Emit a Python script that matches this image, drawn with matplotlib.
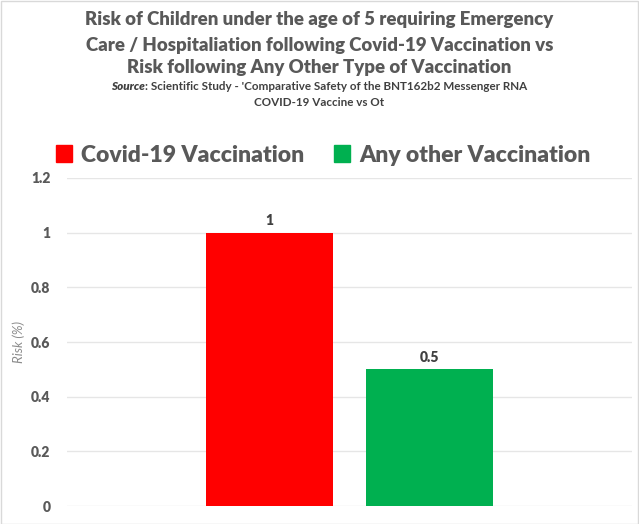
import matplotlib
matplotlib.use("Agg")
import matplotlib.pyplot as plt
from matplotlib.patches import Rectangle

series = ["Covid-19 Vaccination", "Any other Vaccination"]
values = [1.0, 0.5]
colors = ["#FF0000", "#00B050"]
yticks = [0, 0.2, 0.4, 0.6, 0.8, 1.0, 1.2]
ytick_labels = ["0", "0.2", "0.4", "0.6", "0.8", "1", "1.2"]
value_labels = ["1", "0.5"]
title_lines = ["Risk of Children under the age of 5 requiring Emergency",
               "Care / Hospitaliation following Covid-19 Vaccination vs",
               "Risk following Any Other Type of Vaccination"]
source_word = "Source"
source_rest = ": Scientific Study - 'Comparative Safety of the BNT162b2 Messenger RNA"
source_line2 = "COVID-19 Vaccine vs Ot"

W, H = 639, 524
plt.rcParams['font.family'] = ['Lato', 'DejaVu Sans']
fig = plt.figure(figsize=(W / 100, H / 100), dpi=100)
gray = "#595959"
dark = "#404040"

# border
fig.patches.append(Rectangle((0.5 / W, 0.5 / H), 1 - 1.5 / W, 1 - 1.5 / H, transform=fig.transFigure,
                             fill=False, edgecolor="#D9D9D9", linewidth=1))

ax = fig.add_axes([67 / W, 1 - 506 / H, (632 - 67) / W, (506 - 178) / H])
x = [0, 1]
bars = ax.bar(x, values, width=0.789, color=colors, zorder=3)
ax.set_xlim(-1.255, 2.255)
ax.set_ylim(0, 1.2)
ax.set_yticks(yticks)
ax.set_yticklabels(ytick_labels, fontsize=10, fontweight='heavy', color=gray)
ax.set_xticks([])
for s in ax.spines.values():
    s.set_visible(False)
ax.tick_params(axis='y', length=0, pad=12)
ax.yaxis.grid(True, color="#E6E6E6", linewidth=1, zorder=0)
ax.set_axisbelow(True)
ax.set_ylabel("Risk (%)", fontsize=9.5, style='italic', color="#8C8C8C", labelpad=4)

for xi, v, lab in zip(x, values, value_labels):
    ax.text(xi, v + 0.02, lab, ha='center', va='bottom', fontsize=10, fontweight='heavy', color=dark)

# title
ys = [20, 45, 68]
for line, yy in zip(title_lines, ys):
    fig.text(0.5, 1 - yy / H, line, ha='center', va='center', fontsize=13.4, fontweight='heavy', color=gray)

# source line built from two pieces, centered together
fs = 8.4
r = fig.canvas.get_renderer()
t1 = fig.text(0, 1 - 87 / H, source_word, ha='left', va='center', fontsize=fs, fontweight='heavy',
              style='italic', color=dark)
t2 = fig.text(0, 1 - 87 / H, source_rest, ha='left', va='center', fontsize=fs, fontweight='bold', color=dark)
w1 = t1.get_window_extent(r).width
w2 = t2.get_window_extent(r).width
x0 = (W - (w1 + w2)) / 2
t1.set_x(x0 / W)
t2.set_x((x0 + w1) / W)
fig.text(0.5, 1 - 103 / H, source_line2, ha='center', va='center', fontsize=fs, fontweight='bold', color=dark)

# legend
handles = [Rectangle((0, 0), 1, 1, color=c) for c in colors]
leg = fig.legend(handles, series, loc='center', bbox_to_anchor=(323 / W, 1 - 155 / H), ncol=2,
                 frameon=False, prop={'size': 16.5, 'weight': 'heavy'}, handlelength=0.7, handleheight=0.7,
                 handletextpad=0.4, columnspacing=1.3)
for t in leg.get_texts():
    t.set_color(gray)

fig.savefig("out.png", dpi=100)
